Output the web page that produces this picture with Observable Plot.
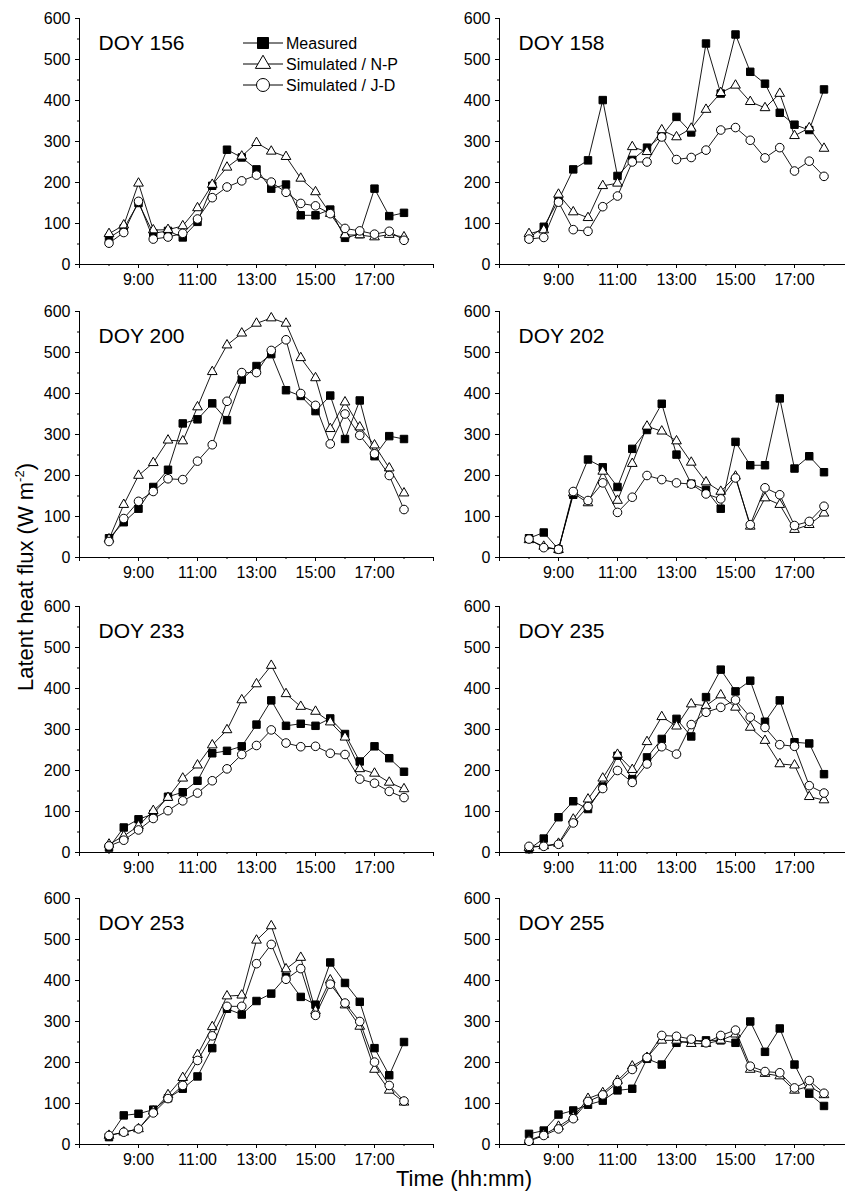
<!DOCTYPE html>
<html><head><meta charset="utf-8">
<script src="https://cdn.jsdelivr.net/npm/d3@7"></script>
<script src="https://cdn.jsdelivr.net/npm/@observablehq/plot@0.6"></script>
<style>
html,body{margin:0;padding:0;background:#fff;overflow:hidden}
#chart{position:relative;width:845px;height:1191px;overflow:hidden;background:#fff}
#chart svg{position:absolute;background:none}
</style></head><body><div id="chart"></div>
<script>
// ---- data ----
const hours = [8, 8.5, 9, 9.5, 10, 10.5, 11, 11.5, 12, 12.5, 13, 13.5, 14, 14.5, 15, 15.5, 16, 16.5, 17, 17.5, 18];
const xLabelTicks = [9, 11, 13, 15, 17];
const xTickLabels = ["9:00", "11:00", "13:00", "15:00", "17:00"];
const xEndTicks = [7, 19];
const xMinorTicks = [8, 10, 12, 14, 16, 18];
const yMajorTicks = [0, 100, 200, 300, 400, 500, 600];
const yMinorTicks = [50, 150, 250, 350, 450, 550];
const seriesNames = ["Measured", "Simulated / N-P", "Simulated / J-D"];
const panelLabels = ["DOY 156", "DOY 158", "DOY 200", "DOY 202", "DOY 233", "DOY 235", "DOY 253", "DOY 255"];

const doy156Measured = [65, 88, 150, 76, 82, 66, 104, 192, 280, 261, 232, 185, 195, 120, 120, 134, 65, 74, 185, 118, 126];
const doy156NP = [75, 96, 198, 84, 85, 94, 138, 195, 237, 264, 297, 276, 263, 210, 177, 124, 72, 72, 67, 73, 67];
const doy156JD = [52, 78, 154, 62, 67, 76, 111, 163, 189, 204, 218, 201, 176, 149, 143, 124, 88, 82, 74, 81, 59];

const doy158Measured = [65, 92, 157, 232, 254, 401, 216, 255, 285, 313, 360, 322, 539, 417, 561, 470, 441, 370, 341, 328, 427];
const doy158NP = [75, 84, 171, 128, 114, 192, 198, 287, 275, 328, 311, 332, 378, 419, 437, 397, 382, 417, 314, 333, 283];
const doy158JD = [62, 66, 152, 85, 81, 141, 167, 250, 250, 311, 256, 261, 279, 328, 334, 303, 260, 285, 228, 252, 215];

const doy200Measured = [47, 86, 119, 172, 214, 327, 337, 376, 335, 434, 467, 496, 408, 394, 357, 395, 289, 383, 247, 296, 289];
const doy200NP = [45, 129, 200, 231, 286, 284, 367, 453, 518, 547, 571, 584, 571, 487, 438, 314, 379, 318, 274, 218, 157];
const doy200JD = [39, 95, 137, 161, 192, 190, 235, 275, 381, 451, 451, 505, 531, 400, 371, 277, 350, 298, 253, 200, 117];

const doy202Measured = [47, 61, 20, 153, 239, 220, 172, 265, 311, 375, 251, 180, 165, 119, 282, 225, 225, 388, 217, 247, 208];
const doy202NP = [43, 27, 19, 157, 133, 210, 139, 229, 320, 308, 284, 232, 184, 161, 198, 76, 145, 129, 68, 80, 108];
const doy202JD = [45, 24, 20, 161, 139, 182, 110, 147, 200, 190, 182, 179, 155, 143, 194, 80, 170, 153, 78, 88, 125];

const doy233Measured = [12, 61, 81, 94, 136, 147, 175, 242, 248, 259, 312, 371, 309, 314, 309, 327, 289, 222, 259, 230, 197];
const doy233NP = [20, 40, 65, 102, 134, 181, 213, 262, 299, 372, 411, 456, 387, 356, 344, 318, 281, 204, 193, 171, 155];
const doy233JD = [16, 30, 55, 83, 102, 126, 145, 175, 204, 239, 261, 299, 267, 258, 259, 242, 239, 179, 169, 149, 134];

const doy235Measured = [8, 34, 86, 125, 106, 161, 236, 179, 232, 277, 326, 283, 379, 446, 393, 419, 319, 371, 269, 266, 191];
const doy235NP = [12, 16, 22, 81, 130, 181, 239, 202, 270, 331, 308, 362, 358, 384, 354, 305, 273, 216, 213, 136, 128];
const doy235JD = [15, 15, 20, 72, 112, 156, 200, 171, 216, 258, 240, 312, 342, 354, 372, 330, 305, 263, 259, 163, 145];

const doy253Measured = [18, 71, 75, 85, 113, 136, 166, 235, 331, 317, 350, 368, 409, 360, 341, 444, 394, 348, 235, 169, 250];
const doy253NP = [22, 30, 38, 81, 121, 163, 219, 287, 362, 364, 498, 533, 428, 456, 326, 401, 340, 288, 183, 132, 103];
const doy253JD = [22, 30, 38, 77, 112, 144, 205, 265, 337, 337, 441, 488, 403, 429, 315, 391, 345, 300, 201, 144, 106];

const doy255Measured = [26, 34, 73, 83, 97, 107, 132, 136, 209, 195, 248, 252, 254, 254, 248, 300, 226, 283, 195, 124, 94];
const doy255NP = [10, 24, 44, 67, 112, 126, 156, 191, 212, 254, 254, 246, 246, 254, 269, 183, 173, 167, 132, 142, 121];
const doy255JD = [8, 22, 38, 63, 105, 121, 151, 183, 212, 266, 264, 257, 248, 266, 279, 191, 178, 175, 138, 156, 125];

const panelData = [
  [doy156Measured, doy156NP, doy156JD],
  [doy158Measured, doy158NP, doy158JD],
  [doy200Measured, doy200NP, doy200JD],
  [doy202Measured, doy202NP, doy202JD],
  [doy233Measured, doy233NP, doy233JD],
  [doy235Measured, doy235NP, doy235JD],
  [doy253Measured, doy253NP, doy253JD],
  [doy255Measured, doy255NP, doy255JD]
];

// ---- layout / style ----
const FONT = "'Liberation Sans', Arial, Helvetica, sans-serif";
const colLeft = [0, 420];
const rowTop = [8, 300.5, 596, 888.3];
const symbols = ["square", "triangle", "circle"];
const fills = ["#000", "#fff", "#fff"];
const radii = [4.2, 3.6, 4.3];

const chart = document.getElementById("chart");

function makePanel(label, series) {
  const marks = [
    Plot.ruleY([0], {stroke: "#000", strokeWidth: 1}),
    Plot.ruleX([7], {stroke: "#000", strokeWidth: 1}),
    Plot.axisX({ticks: xLabelTicks, tickFormat: d => xTickLabels[xLabelTicks.indexOf(d)], tickSize: 4, tickPadding: 5, label: null, fontSize: 16}),
    Plot.axisX({ticks: xEndTicks, tickFormat: () => "", tickSize: 4, label: null}),
    Plot.axisX({ticks: xMinorTicks, tickFormat: () => "", tickSize: 2, label: null}),
    Plot.axisY({ticks: yMajorTicks, tickSize: 4, tickPadding: 5, label: null, fontSize: 16}),
    Plot.axisY({ticks: yMinorTicks, tickFormat: () => "", tickSize: 2, label: null})
  ];
  series.forEach((vals, k) => {
    const rows = hours.map((h, i) => ({h, v: vals[i]}));
    marks.push(Plot.line(rows, {x: "h", y: "v", stroke: "#000", strokeWidth: 0.9}));
    marks.push(Plot.dot(rows, {x: "h", y: "v", symbol: symbols[k], r: radii[k], fill: fills[k], stroke: "#000", strokeWidth: 1}));
  });
  marks.push(Plot.text([label], {frameAnchor: "top-left", dx: 19, dy: 17, fontSize: 21, fill: "#000"}));
  return Plot.plot({
    width: 440, height: 286,
    marginLeft: 79, marginRight: 7, marginTop: 10, marginBottom: 30,
    x: {domain: [7, 19], label: null},
    y: {domain: [0, 600], label: null},
    style: {fontFamily: FONT, fontSize: "16px", color: "#000", background: "none", overflow: "visible"},
    marks
  });
}

panelLabels.forEach((label, p) => {
  const svg = makePanel(label, panelData[p]);
  svg.style.left = colLeft[p % 2] + "px";
  svg.style.top = rowTop[Math.floor(p / 2)] + "px";
  chart.appendChild(svg);
});

// ---- overlay: legend and axis titles ----
const ov = d3.select(chart).append("svg")
  .attr("width", 845).attr("height", 1191)
  .style("left", "0px").style("top", "0px")
  .style("font-family", FONT);

const legendY = [43, 64, 85];
const legendSize = [121, 100, 133];
seriesNames.forEach((name, k) => {
  const g = ov.append("g").attr("transform", `translate(0,${legendY[k]})`);
  g.append("line").attr("x1", 243).attr("x2", 283).attr("y1", 0).attr("y2", 0)
    .attr("stroke", "#000").attr("stroke-width", 1);
  const sym = [d3.symbolSquare, d3.symbolTriangle, d3.symbolCircle][k];
  g.append("path").attr("transform", "translate(263,0)")
    .attr("d", d3.symbol(sym, legendSize[k])())
    .attr("fill", fills[k]).attr("stroke", "#000").attr("stroke-width", 1);
  g.append("text").attr("x", 286).attr("y", 0).attr("dy", "0.36em")
    .attr("font-size", 16).attr("fill", "#000").text(name);
});

const yt = ov.append("text")
  .attr("transform", "translate(33,577) rotate(-90)")
  .attr("text-anchor", "middle").attr("font-size", 22).attr("fill", "#000");
yt.append("tspan").text("Latent heat flux (W m");
yt.append("tspan").attr("dy", -9).attr("font-size", 13).text("-2");
yt.append("tspan").attr("dy", 9).text(")");

ov.append("text").attr("x", 464).attr("y", 1186)
  .attr("text-anchor", "middle").attr("font-size", 22).attr("fill", "#000")
  .text("Time (hh:mm)");
</script></body></html>
